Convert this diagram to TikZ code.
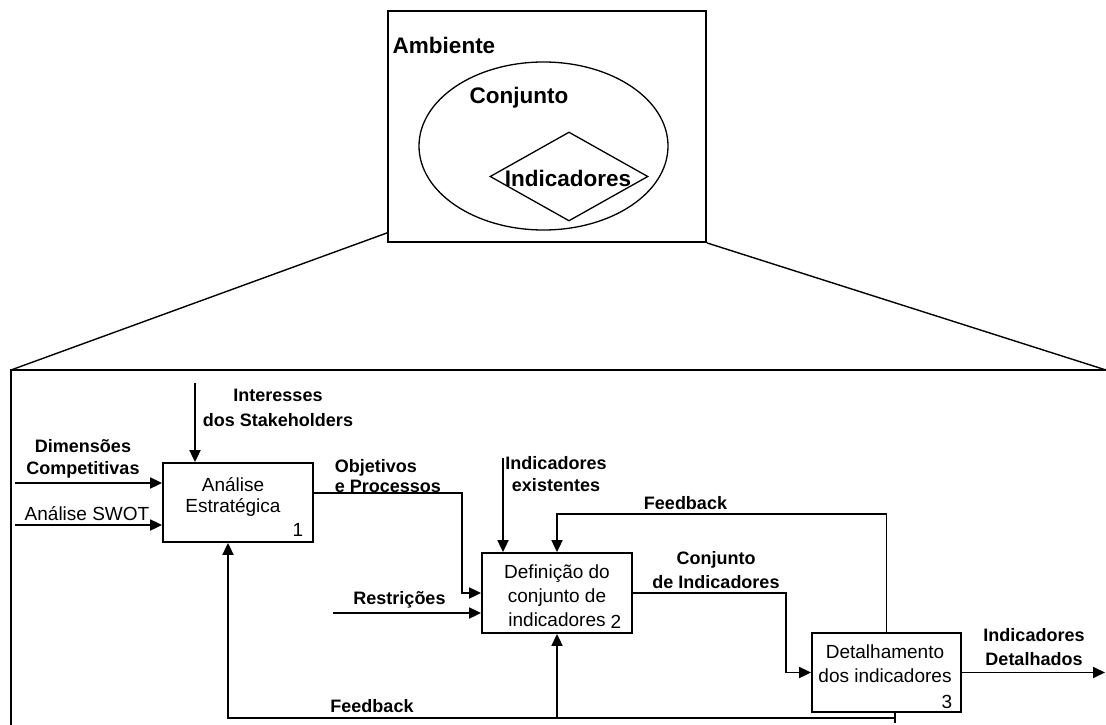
\documentclass[tikz,border=0pt]{standalone}
\usepackage{fontspec}
\setmainfont{Liberation Sans}
\usetikzlibrary{arrows.meta,shapes.geometric,calc}

\begin{document}
\begin{tikzpicture}[x=1pt,y=-1pt,
  line width=1.8pt,
  arr/.style={-{Triangle[length=12pt,width=11pt]}},
  proc/.style={draw, rectangle, inner sep=0pt},
  boxtxt/.style={font=\fontsize{19}{24}\selectfont, align=center, inner sep=0pt},
  lbl/.style={font=\bfseries\fontsize{18}{22}\selectfont, align=center, inner sep=0pt},
  big/.style={font=\bfseries\fontsize{22.5}{26}\selectfont, inner sep=0pt}]

\useasboundingbox (0,0) rectangle (1106,725);
\clip (0,0) rectangle (1106,725);

% ---- context: environment, set, indicators ----
\node[proc, minimum width=318pt, minimum height=231pt] (amb) at (547,126.5) {};
\node[draw, ellipse, line width=1.3pt, inner sep=0pt,
      minimum width=249pt, minimum height=168pt] (conj) at (543.5,146) {};
\node[draw, diamond, line width=1.3pt, inner sep=0pt,
      minimum width=158pt, minimum height=89pt] (ind) at (569,176.5) {};
\node[big] (tamb) at (444,45) {Ambiente};
\node[big] (tconj) at (519,98) {Conjunto};
\node[big] (tind) at (568,178) {Indicadores};

% ---- zoom frame ----
\coordinate (fl) at (11,370);
\coordinate (fr) at (1112,370);
\draw (11,730) -- (fl) -- (fr);
\draw[line width=1.4pt] (fl) -- ($(amb.south west)+(0,-10)$);
\draw[line width=1.4pt] (amb.south east) -- (1106,370);

% ---- process boxes ----
\node[proc, minimum width=150pt, minimum height=79pt] (b1) at (238,502.5) {};
\node[proc, minimum width=150pt, minimum height=80pt] (b2) at (557,593) {};
\node[proc, minimum width=149pt, minimum height=79pt] (b3) at (886.5,672.5) {};

\node[boxtxt, font=\fontsize{19}{20.5}\selectfont] (t1) at (233,497) {Análise\\Estratégica};
\node[boxtxt] (n1) at (298,530) {1};
\node[boxtxt] (t2) at (557,596) {Definição do\\conjunto de\\indicadores};
\node[boxtxt] (n2) at (616,622) {2};
\node[boxtxt] (t3) at (885,664) {Detalhamento\\dos indicadores};
\node[boxtxt] (n3) at (947,702) {3};

% ---- labels ----
\node[lbl, font=\bfseries\fontsize{18}{25}\selectfont] (lint) at (278,407.5) {Interesses\\dos Stakeholders};
\node[lbl] (ldim) at (83,459) {Dimensões\\Competitivas};
\node[boxtxt] (lswot) at (87,514) {Análise SWOT};
\node[lbl, align=left, anchor=west, font=\bfseries\fontsize{18}{20}\selectfont] (lobj) at (334,476) {Objetivos\\e Processos};
\node[lbl] (lexi) at (556,474) {Indicadores\\existentes};
\node[lbl] (lfbt) at (685.5,503) {Feedback};
\node[lbl, font=\bfseries\fontsize{18}{24}\selectfont] (lcon) at (716,570) {Conjunto\\de Indicadores};
\node[lbl] (lres) at (399.5,600) {Restrições};
\node[lbl, font=\bfseries\fontsize{18}{24}\selectfont] (ldet) at (1034,647) {Indicadores\\Detalhados};
\node[lbl] (lfbb) at (372,706) {Feedback};

% ---- connectors ----
\coordinate (iS) at (195,383);
\draw[arr] (iS) -- (iS |- b1.north);
\coordinate (dS) at (15,483);
\draw[arr] (dS) -- (dS -| b1.west);
\coordinate (sS) at (15,525);
\draw[arr] (sS) -- (sS -| b1.west);
\coordinate (oB) at (462,493);
\draw[arr] (oB -| b1.east) -- (oB) |- (b2.west);
\coordinate (rS) at (333,613);
\draw[arr] (rS) -- (rS -| b2.west);
\coordinate (eS) at (503,458);
\draw[arr] (eS) -- (eS |- b2.north);
\coordinate (fT) at (557,514);
\draw[arr] (b3.north) |- (fT) -- (b2.north);
\coordinate (cB) at (786,593);
\draw[arr] (b2.east) -- (cB) |- (b3.west);
\coordinate (oE) at (1105,672.5);
\draw[arr] (b3.east) -- (oE);

\coordinate (fB) at (895,718);
\coordinate (fE) at (895,723);
\coordinate (fL) at (228,718);
\draw (fB |- b3.south) -- (fE);
\draw[arr] (fB) -- (fL) -- (fL |- b1.south);
\draw[arr] (b2.south |- fB) -- (b2.south);
\end{tikzpicture}
\end{document}
